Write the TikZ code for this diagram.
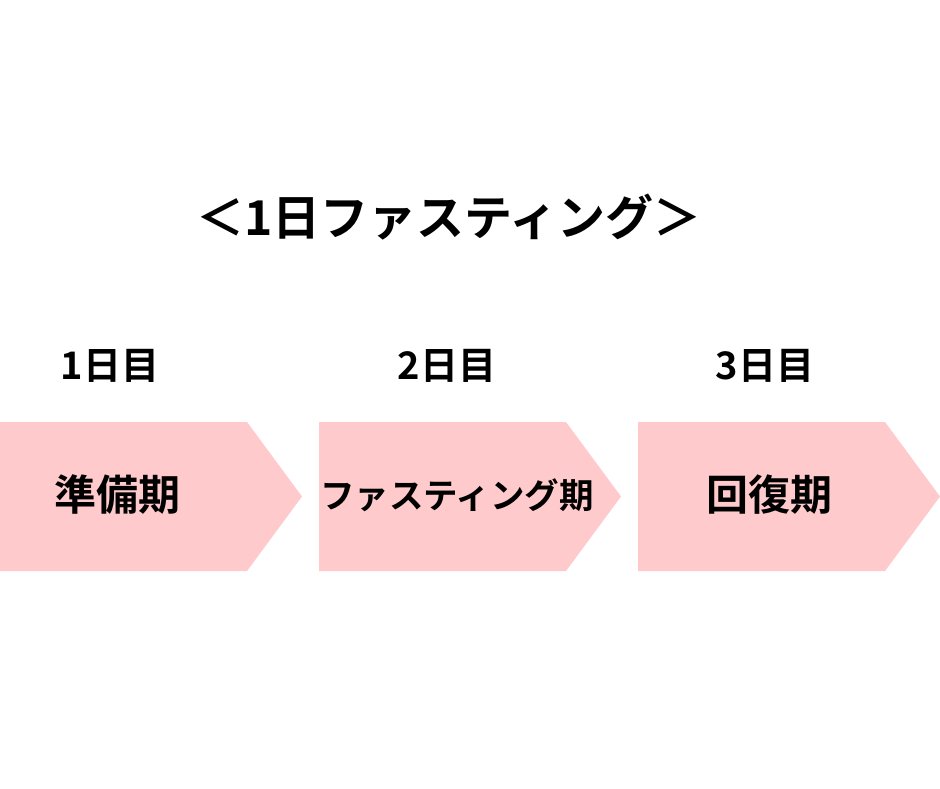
\documentclass[tikz,border=0pt]{standalone}
\usepackage{fontspec}
\setmainfont{Noto Sans CJK JP}[BoldFont={Noto Sans CJK JP Bold}]
\definecolor{pinkfill}{RGB}{255,202,204}
\begin{document}
\begin{tikzpicture}[x=1pt,y=-1pt,
  chevron/.style={fill=pinkfill,draw=none},
  title/.style={font=\bfseries\fontsize{48}{52}\selectfont,inner sep=0pt,anchor=center},
  daylabel/.style={font=\bfseries\fontsize{38}{42}\selectfont,inner sep=0pt,anchor=center},
  phase/.style={font=\bfseries\fontsize{42}{46}\selectfont,inner sep=0pt,anchor=center},
  phasesmall/.style={font=\bfseries\fontsize{34.5}{38}\selectfont,inner sep=0pt,anchor=center}]
\useasboundingbox (0,0) rectangle (940,788);
\fill[white] (0,0) rectangle (940,788);
% chevrons
\fill[chevron] (0,422) -- (247,422) -- (302,496.5) -- (247,571) -- (0,571) -- cycle;
\fill[chevron] (319,422) -- (566,422) -- (621,496.5) -- (566,571) -- (319,571) -- cycle;
\fill[chevron] (638,422) -- (885,422) -- (940,496.5) -- (885,571) -- (638,571) -- cycle;
% title
\node[title] (t) at (449,217) {＜1日ファスティング＞};
% day labels
\node[daylabel] (d1) at (110,366) {1日目};
\node[daylabel] (d2) at (447,366) {2日目};
\node[daylabel] (d3) at (765,366) {3日目};
% phase labels
\node[phase] (p1) at (117,495) {準備期};
\node[phasesmall] (p2) at (457,495) {ファスティング期};
\node[phase] (p3) at (769,495) {回復期};
\end{tikzpicture}
\end{document}
